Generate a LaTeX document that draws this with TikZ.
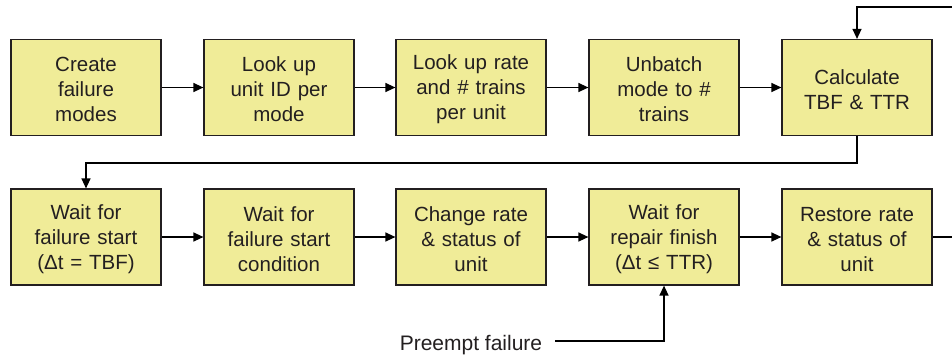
\documentclass[tikz,border=0pt]{standalone}
\usepackage{fontspec}
\setmainfont{Liberation Sans}
\usetikzlibrary{arrows.meta}
\definecolor{boxfill}{RGB}{240,236,152}
\definecolor{ink}{RGB}{35,31,32}
\begin{document}
\begin{tikzpicture}[x=1pt,y=-1pt,
  box/.style={draw=ink, line width=1.2pt, fill=boxfill, minimum width=150pt,
    minimum height=96pt, align=center, text width=146pt, inner sep=0pt,
    font=\fontsize{20.5}{25}\selectfont, text=ink,
    execute at begin node={\rule{0pt}{19pt}}},
  conn/.style={draw=black, line width=1.3pt, -{Triangle[length=10pt,width=9pt]}},
  plain/.style={draw=black, line width=1.3pt}]
\useasboundingbox (0,0) rectangle (952,357);
% row 1
\node[box] (b1) at (86,87.5) {Create\\failure\\modes};
\node[box] (b2) at (279,87.5) {Look up\\unit ID per\\mode};
\node[box] (b3) at (471,87.5) {Look up rate\\and \# trains\\per unit};
\node[box] (b4) at (664,87.5) {Unbatch\\mode to \#\\trains};
\node[box] (b5) at (857,87.5) {Calculate\\TBF \& TTR};
% row 2
\node[box] (b6) at (86,237) {Wait for\\failure start\\(Δt = TBF)};
\node[box] (b7) at (279,237) {Wait for\\failure start\\condition};
\node[box] (b8) at (471,237) {Change rate\\\& status of\\unit};
\node[box] (b9) at (664,237) {Wait for\\repair finish\\(Δt ≤ TTR)};
\node[box] (b10) at (857,237) {Restore rate\\\& status of\\unit};
\node[anchor=base, font=\fontsize{21}{25}\selectfont, text=ink, inner sep=0pt] (pf) at (471,350) {Preempt failure};
% connectors
\draw[conn] (b1) -- (b2);
\draw[conn] (b2) -- (b3);
\draw[conn] (b3) -- (b4);
\draw[conn] (b4) -- (b5);
\draw[conn] (b6) -- (b7);
\draw[conn] (b7) -- (b8);
\draw[conn] (b8) -- (b9);
\draw[conn] (b9) -- (b10);
\coordinate (topin) at (952,7);
\coordinate (rightout) at (952,237);
\coordinate (pfs) at (555,341);
\draw[conn] (topin) -| (b5.north);
\draw[conn] (b5.south) -- ++(0,27) -| (b6.north);
\draw[plain] (b10.east) -- (rightout);
\draw[conn] (pfs) -| (b9.south);
\end{tikzpicture}
\end{document}
